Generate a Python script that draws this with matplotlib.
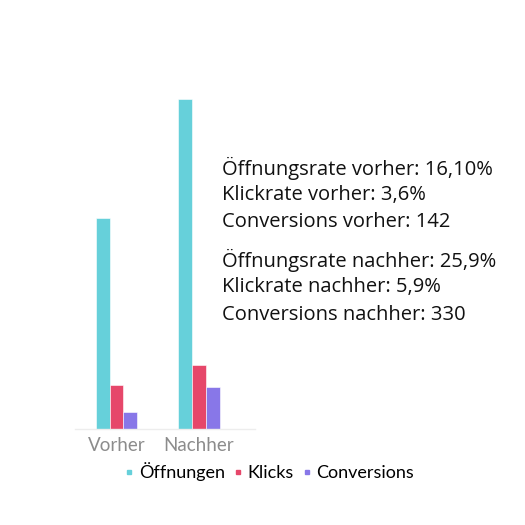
import matplotlib
matplotlib.use("Agg")
import matplotlib.pyplot as plt
from matplotlib.lines import Line2D

# data (heights, arbitrary units)
categories = ["Vorher", "Nachher"]
series_names = ["Öffnungen", "Klicks", "Conversions"]
oeffnungen = [211, 330]
klicks = [44, 64]
conversions = [17, 42]
notes = [
    "Öffnungsrate vorher: 16,10%",
    "Klickrate vorher: 3,6%",
    "Conversions vorher: 142",
    "Öffnungsrate nachher: 25,9%",
    "Klickrate nachher: 5,9%",
    "Conversions nachher: 330",
]

colors = ["#66d0da", "#e6476a", "#8877e8"]
W = H = 525.0

fig = plt.figure(figsize=(5.25, 5.25), dpi=100)
ax = fig.add_axes([75 / W, 96 / H, 180 / W, 339 / H])

width = 0.166
xs = range(len(categories))
for i, (vals, col) in enumerate(zip([oeffnungen, klicks, conversions], colors)):
    pos = [x + (i - 1) * width for x in xs]
    ax.bar(pos, vals, width=width, color=col, edgecolor="white", linewidth=0.4)

ax.set_xlim(-0.503, 1.679)
ax.set_ylim(0, 339)
ax.set_xticks(list(xs))
ax.set_xticklabels(categories, fontsize=13.5, color="#8c8c8c", family="Lato")
ax.tick_params(axis="x", length=0, pad=6)
ax.set_yticks([])
for s in ["top", "right", "left"]:
    ax.spines[s].set_visible(False)
ax.spines["bottom"].set_color("#ededed")
ax.spines["bottom"].set_linewidth(1)
ax.patch.set_alpha(0)

handles = [Line2D([], [], marker="s", linestyle="none", markersize=3.5,
                  color=c) for c in colors]
fig.legend(handles, series_names, loc="center",
           bbox_to_anchor=(270 / W, 1 - 472 / H), ncol=3, frameon=False,
           handlelength=0.4, handletextpad=0.35, columnspacing=0.5,
           prop={"family": "Lato", "size": 13})

line_y = [168, 195, 222, 260, 287, 315]
for txt, y in zip(notes, line_y):
    fig.text(222 / W, 1 - y / H, txt, fontsize=14.5, family="Open Sans",
             va="center", ha="left", color="#111111")

fig.savefig("out.png", dpi=100)
